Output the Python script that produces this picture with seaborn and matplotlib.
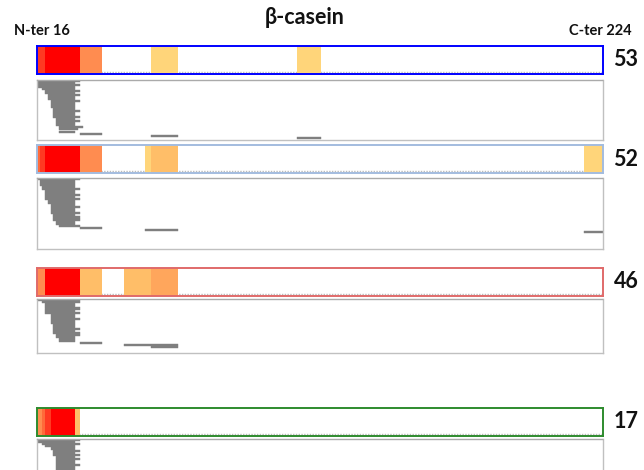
import numpy as np
import pandas as pd
import matplotlib
matplotlib.use("Agg")
import matplotlib.pyplot as plt
from matplotlib.colors import ListedColormap
import seaborn as sns

# ---------------------------------------------------------------- data
FIRST_RES, LAST_RES = 16, 224
residues = np.arange(FIRST_RES, LAST_RES + 1)

title = "β-casein"
nter_label = "N-ter 16"
cter_label = "C-ter 224"

sample_labels = ["53", "52", "46", "17"]

# coverage strip colour scale: 0 = not covered ... 7 = highest coverage
level_colors = ["#FFFFFF", "#FFD57A", "#FFBE68", "#FFA65C",
                "#FF8C50", "#FF6A3A", "#FF3A22", "#FF0000"]

# coverage segments (first residue, last residue, level)
segments_53 = [(16, 18, 6), (19, 31, 7), (32, 39, 4), (58, 67, 1), (112, 120, 1)]
segments_52 = [(16, 16, 5), (17, 18, 6), (19, 31, 7), (32, 39, 4),
               (56, 57, 1), (58, 67, 2), (218, 224, 1)]
segments_46 = [(16, 18, 4), (19, 31, 7), (32, 39, 2), (48, 57, 2), (58, 67, 3)]
segments_17 = [(16, 17, 4), (18, 18, 5), (19, 20, 6), (21, 29, 7), (30, 31, 2)]

# identified peptides (first and last residue), in stacking order
starts_53 = [16, 16, 16, 16, 18, 19, 19, 20, 20, 20, 21, 21, 21, 21,
             22, 22, 22, 22, 22, 23, 23, 23, 23, 24, 24, 24, 32, 58, 112]
ends_53 = [31, 29, 31, 29, 29, 31, 29, 31, 29, 29, 31, 29, 29, 29,
           29, 31, 29, 29, 31, 29, 31, 29, 29, 32, 30, 29, 39, 67, 120]

starts_52 = [16, 17, 17, 17, 18, 18, 19, 19, 19, 19, 19, 20, 20,
             21, 21, 21, 21, 21, 22, 22, 22, 23, 23, 24, 32, 56, 218]
ends_52 = [31, 29, 29, 29, 29, 31, 29, 29, 31, 29, 31, 29, 29,
           29, 31, 29, 29, 31, 29, 31, 31, 29, 29, 31, 39, 67, 224]

starts_46 = [16, 18, 19, 19, 19, 19, 19, 21, 21, 21, 21, 21,
             22, 22, 22, 22, 22, 23, 23, 24, 24, 32, 48, 58]
ends_46 = [31, 31, 29, 29, 31, 29, 31, 29, 29, 31, 29, 29,
           29, 29, 31, 29, 31, 31, 29, 29, 29, 39, 67, 67]

starts_17 = [16, 16, 18, 19, 21, 22, 22, 22, 23, 23, 23, 23, 23, 23, 23, 23]
ends_17 = [31, 29, 31, 29, 29, 31, 29, 31, 29, 31, 29, 29, 31, 29, 29, 29]

segments = [segments_53, segments_52, segments_46, segments_17]
peptide_starts = [starts_53, starts_52, starts_46, starts_17]
peptide_ends = [ends_53, ends_52, ends_46, ends_17]

# ---------------------------------------------------------------- style
sns.set_theme(style="white")
plt.rcParams["font.family"] = ["Lato", "DejaVu Sans"]

frame_colors = ["#0000FF", "#A3BCDF", "#E06A6A", "#2E8B2E"]
peptide_color = "#7F7F7F"
box_color = "#C0C0C0"
text_color = "#111111"
ROW_PX = 2.04  # height of one peptide row

W, H = 644, 470
fig = plt.figure(figsize=(W / 100, H / 100), dpi=100)


def place(x0, y0, x1, y1):
    return fig.add_axes([x0 / W, 1 - y1 / H, (x1 - x0) / W, (y1 - y0) / H])


strip_boxes = [(37, 46, 603, 74), (37, 145, 603, 173),
               (37, 268, 603, 296), (37, 408, 603, 436)]
peptide_boxes = [(37, 79.5, 602.5, 140), (37, 177.7, 602.5, 249),
                 (37, 299.3, 602.5, 353.3), (37, 439.3, 602.5, 520)]
label_y = [60, 159, 282, 422]

for k in range(4):
    # coverage strip
    levels = np.zeros(len(residues), dtype=int)
    for a, b, lev in segments[k]:
        levels[(residues >= a) & (residues <= b)] = lev
    df = pd.DataFrame([levels], columns=residues)
    ax = place(*strip_boxes[k])
    sns.heatmap(df, ax=ax, cmap=ListedColormap(level_colors), vmin=-0.5,
                vmax=len(level_colors) - 0.5, cbar=False, mask=(df == 0),
                xticklabels=False, yticklabels=False)
    ax.axhline(0.93, color="#BBBBBB", lw=1, ls=(0, (1, 1)), zorder=0.5)
    ax.set_xlabel("")
    ax.set_ylabel("")
    for sp in ax.spines.values():
        sp.set_visible(True)
        sp.set_color(frame_colors[k])
        sp.set_linewidth(1.4)

    # peptide map
    x0, y0, x1, y1 = peptide_boxes[k]
    axp = place(x0, y0, x1, y1)
    st = np.array(peptide_starts[k])
    en = np.array(peptide_ends[k])
    rows = np.arange(len(st)) + 0.5
    axp.barh(rows, en - st + 1, left=st, height=1.0,
             color=peptide_color, edgecolor=peptide_color, linewidth=0.3)
    axp.set_xlim(FIRST_RES, LAST_RES + 1)
    axp.set_ylim((y1 - y0) / ROW_PX, 0)
    axp.set_xticks([])
    axp.set_yticks([])
    for name, sp in axp.spines.items():
        sp.set_visible(True)
        sp.set_color(box_color)
        sp.set_linewidth(1.0)
    axp.spines["top"].set_linestyle((0, (1, 1)))
    axp.spines["top"].set_color("#AAAAAA")

    fig.text(626 / W, 1 - label_y[k] / H, sample_labels[k], ha="center",
             va="center", fontsize=15.5, fontweight="bold", color=text_color)

fig.text(305 / W, 1 - 18 / H, title, ha="center", va="center",
         fontsize=15.5, fontweight="bold", color=text_color)
fig.text(14 / W, 1 - 31 / H, nter_label, ha="left", va="center",
         fontsize=10.5, fontweight="bold", color=text_color)
fig.text(632 / W, 1 - 31 / H, cter_label, ha="right", va="center",
         fontsize=10.5, fontweight="bold", color=text_color)

fig.savefig("out.png", dpi=100, facecolor="white")
